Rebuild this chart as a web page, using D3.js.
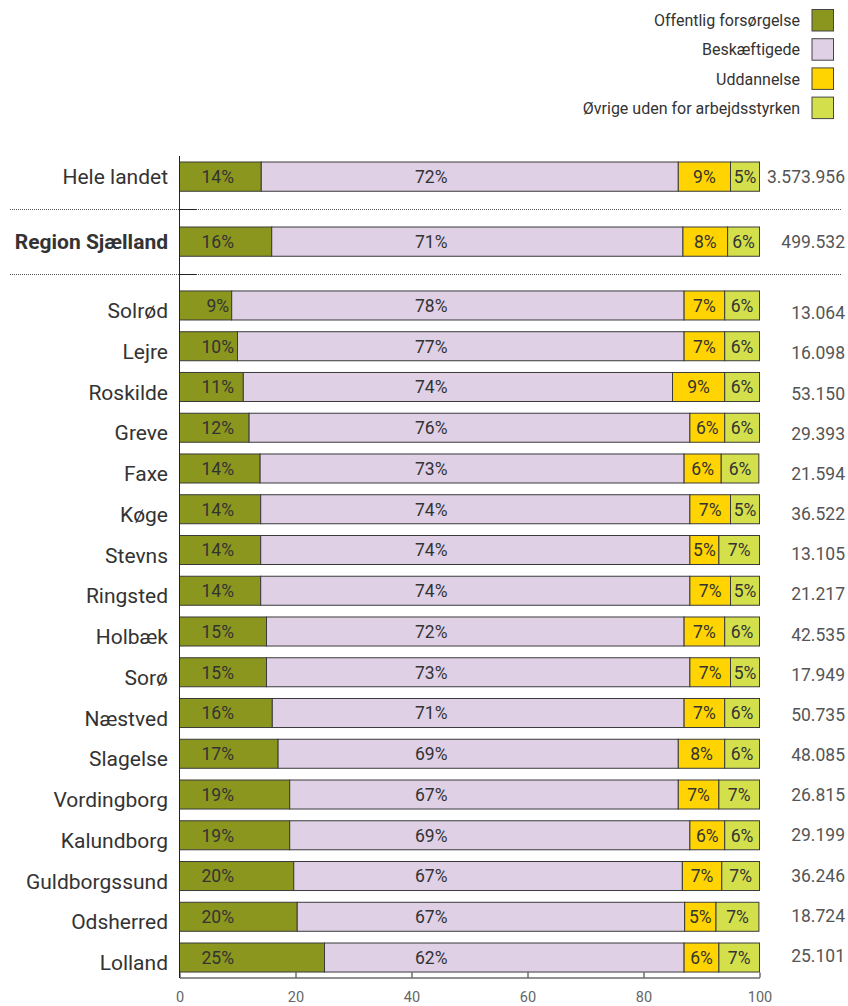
<!DOCTYPE html>
<html>
<head>
<meta charset="utf-8">
<script src="https://cdn.jsdelivr.net/npm/d3@7"></script>
<style>
  html, body { margin: 0; padding: 0; background: #fff; }
  svg { display: block; font-family: Roboto, "Noto Sans", sans-serif; }
</style>
</head>
<body>
<svg id="chart" width="848" height="1006"></svg>
<script>
// ---- data ----
const topCategories = ["Hele landet", "Region Sjælland"];
const municipalities = ["Solrød", "Lejre", "Roskilde", "Greve", "Faxe", "Køge", "Stevns", "Ringsted",
  "Holbæk", "Sorø", "Næstved", "Slagelse", "Vordingborg", "Kalundborg", "Guldborgssund", "Odsherred", "Lolland"];
const seriesNames = ["Offentlig forsørgelse", "Beskæftigede", "Uddannelse", "Øvrige uden for arbejdsstyrken"];
const offentlig    = [14.1, 15.9, 9, 10, 11, 12, 13.9, 14, 14, 14, 15, 15, 16, 17, 19, 19, 19.7, 20.3, 25];
const beskaeftiget = [71.9, 70.9, 78, 77, 74, 76, 73.1, 74, 74, 74, 72, 73, 71, 69, 67, 69, 67.0, 66.8, 62];
const uddannelse   = [9.0, 7.7, 7, 7, 9, 6, 6.4, 7, 5, 7, 7, 7, 7, 8, 7, 6, 6.8, 5.4, 6];
const ovrige       = [5.0, 5.5, 6, 6, 6, 6, 6.49, 5, 7, 5, 6, 5, 6, 6, 7, 6, 6.5, 7.4, 7];
const totals = ["3.573.956", "499.532", "13.064", "16.098", "53.150", "29.393", "21.594", "36.522", "13.105",
  "21.217", "42.535", "17.949", "50.735", "48.085", "26.815", "29.199", "36.246", "18.724", "25.101"];
const xTicks = [0, 20, 40, 60, 80, 100];

// ---- styling ----
const colors = ["#8a961e", "#dfd0e6", "#ffd400", "#d4e04b"];
const textColor = "#333";

const svg = d3.select("#chart");
const allCats = topCategories.concat(municipalities);
const seriesVals = [offentlig, beskaeftiget, uddannelse, ovrige];

const x = d3.scaleLinear().domain([0, 100]).range([179.5, 759.5]);

const yTop = d3.scaleBand().domain(topCategories).range([155.5, 262.75]).paddingInner(0.55).paddingOuter(0.1);
const yMun = d3.scaleBand().domain(municipalities).range([285.1, 977.9]).paddingInner(0.288).paddingOuter(0.144);
const yNum = d3.scalePoint().domain(municipalities).range([313, 955.7]);

function barY(c) { return topCategories.includes(c) ? yTop(c) : yMun(c); }
function bandH(c) { return topCategories.includes(c) ? yTop.bandwidth() : yMun.bandwidth(); }

const rows = allCats.map((c, i) => {
  let cum = 0;
  const segs = seriesVals.map((arr, k) => {
    const s = { k, x0: cum, x1: cum + arr[i], v: arr[i] };
    cum += arr[i];
    return s;
  });
  return { c, i, segs };
});

// ---- legend ----
const legend = svg.append("g");
seriesNames.forEach((name, k) => {
  const cy = 20.5 + k * 29.2;
  legend.append("rect").attr("x", 812).attr("y", cy - 11).attr("width", 21.5).attr("height", 21.5)
    .attr("fill", colors[k]).attr("stroke", "#444").attr("stroke-width", 1);
  legend.append("text").attr("x", 800).attr("y", cy).attr("dy", "0.35em")
    .attr("text-anchor", "end").attr("font-size", 16).attr("fill", textColor).text(name);
});

// ---- bars ----
const gRows = svg.append("g").selectAll("g").data(rows).join("g");
gRows.each(function(r) {
  const g = d3.select(this);
  const y0 = barY(r.c), h = bandH(r.c);
  g.selectAll("rect").data(r.segs).join("rect")
    .attr("x", d => x(d.x0)).attr("y", y0)
    .attr("width", d => x(d.x1) - x(d.x0)).attr("height", h)
    .attr("fill", d => colors[d.k]).attr("stroke", "#3a3a3a").attr("stroke-width", 1);
  g.selectAll("text.val").data(r.segs).join("text").attr("class", "val")
    .attr("x", d => d.k === 0 ? x(6.6) : d.k === 1 ? x(43.4) : x((d.x0 + d.x1) / 2))
    .attr("y", y0 + h / 2).attr("dy", "0.36em")
    .attr("text-anchor", "middle").attr("font-size", 17.5).attr("fill", textColor)
    .text(d => Math.round(d.v) + "%");
});

// ---- category labels ----
svg.append("g").selectAll("text").data(allCats).join("text")
  .attr("x", 168)
  .attr("y", c => barY(c) + bandH(c) / 2 + (topCategories.includes(c) ? 0 : 5))
  .attr("dy", "0.36em").attr("text-anchor", "end")
  .attr("font-size", 21).attr("fill", textColor)
  .attr("font-weight", c => c === "Region Sjælland" ? "bold" : "normal")
  .text(c => c);

// ---- totals ----
svg.append("g").selectAll("text").data(allCats).join("text")
  .attr("x", 845)
  .attr("y", c => topCategories.includes(c) ? yTop(c) + yTop.bandwidth() / 2 : yNum(c))
  .attr("dy", "0.36em").attr("text-anchor", "end")
  .attr("font-size", 17.5).attr("fill", "#555")
  .text((c, i) => totals[i]);

// ---- separators ----
const sepYs = [
  (yTop(topCategories[0]) + yTop.bandwidth() + yTop(topCategories[1])) / 2,
  (yTop(topCategories[1]) + yTop.bandwidth() + yMun(municipalities[0])) / 2
];
sepYs.forEach(sy => {
  svg.append("line").attr("x1", 10).attr("x2", 841).attr("y1", Math.round(sy) + 0.5).attr("y2", Math.round(sy) + 0.5)
    .attr("stroke", "#555").attr("stroke-width", 1).attr("stroke-dasharray", "1,1");
  svg.append("line").attr("x1", x(0)).attr("x2", x(0) + 17).attr("y1", Math.round(sy) + 0.5).attr("y2", Math.round(sy) + 0.5)
    .attr("stroke", "#222").attr("stroke-width", 1);
});

// ---- axes ----
svg.append("line").attr("x1", x(0)).attr("x2", x(0)).attr("y1", 156).attr("y2", 978)
  .attr("stroke", "#222").attr("stroke-width", 1);

const xAxis = d3.axisBottom(x).tickValues(xTicks).tickSizeInner(-5).tickSizeOuter(0).tickPadding(14)
  .tickFormat(d3.format("d"));
const ax = svg.append("g").attr("transform", "translate(0,977.5)").call(xAxis);
ax.select(".domain").attr("stroke", "#222");
ax.selectAll(".tick line").attr("stroke", "#222");
ax.selectAll(".tick text").attr("font-size", 14.5).attr("fill", "#666").attr("font-family", "Roboto, sans-serif");
</script>
</body>
</html>
